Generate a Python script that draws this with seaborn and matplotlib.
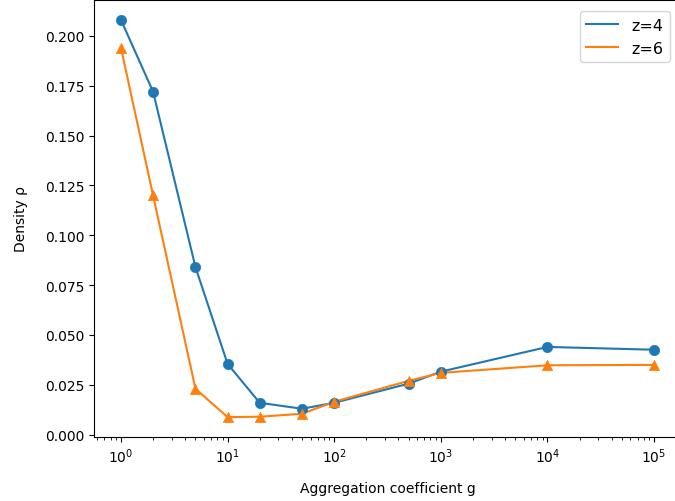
import matplotlib
matplotlib.use("Agg")
import matplotlib.pyplot as plt
import seaborn as sns
import numpy as np

g = [1, 2, 5, 10, 20, 50, 100, 500, 1000, 10000, 100000]
rho_z4 = [0.208, 0.172, 0.084, 0.0355, 0.016, 0.013, 0.016, 0.0256, 0.0316, 0.044, 0.0426]
rho_z6 = [0.194, 0.120, 0.023, 0.0088, 0.009, 0.0105, 0.0165, 0.027, 0.031, 0.0348, 0.035]
labels = ["z=4", "z=6"]
colors = ["#1f77b4", "#ff7f0e"]
markers = ["o", "^"]

fig = plt.figure(figsize=(6.75, 5.02), dpi=100)
ax = fig.add_axes([0.1397, 0.1275, 1.0085 - 0.1397, 0.998 - 0.1275])

for ys, lab, c, m in zip([rho_z4, rho_z6], labels, colors, markers):
    sns.lineplot(x=g, y=ys, ax=ax, color=c, label=lab)
    sns.scatterplot(x=g, y=ys, ax=ax, color=c, marker=m, s=55, edgecolor=c, linewidth=0.5, legend=False, zorder=3)

ax.set_xscale("log")
ax.set_yticks(np.arange(0, 0.2001, 0.025))
ax.set_xlabel("Aggregation coefficient g", labelpad=11)
ax.set_ylabel("Density ρ", labelpad=12)
ax.legend(loc="upper right", fontsize=11.5, borderaxespad=0.7)

fig.savefig("out.png", dpi=100)
